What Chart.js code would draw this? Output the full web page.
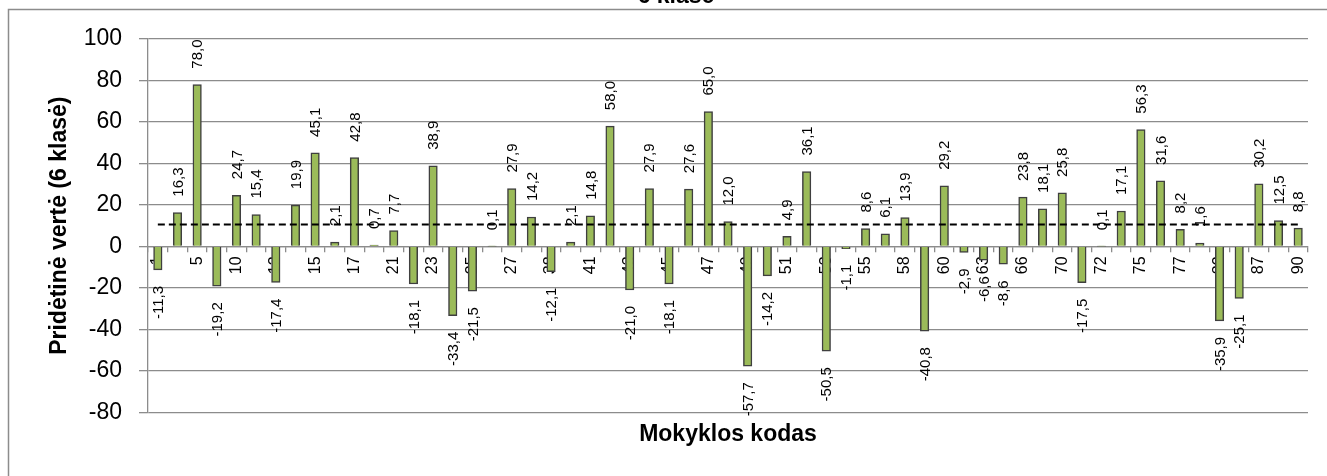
<!DOCTYPE html>
<html>
<head>
<meta charset="utf-8">
<script src="https://cdn.jsdelivr.net/npm/chart.js@4.4.1/dist/chart.umd.min.js"></script>
<style>
  html, body { margin: 0; padding: 0; background: #fff; }
  canvas { display: block; }
</style>
</head>
<body>
<canvas id="chart" width="1327" height="476"></canvas>
<script>
// school codes (every other one is shown on the axis, the rest are estimated)
const schoolCodes = [
    "1", "3", "5", "7", "10", "11", "12", "14", "15", "16",
    "17", "19", "21", "22", "23", "24", "25", "26", "27", "30",
    "38", "40", "41", "42", "43", "44", "45", "46", "47", "48",
    "49", "50", "51", "52", "53", "54", "55", "57", "58", "59",
    "60", "62", "63", "64", "66", "68", "70", "71", "72", "74",
    "75", "76", "77", "80", "82", "85", "87", "88", "90"
];

// added value, 6th grade
const addedValue = [
    -11.3, 16.3, 78.0, -19.2, 24.7, 15.4, -17.4, 19.9, 45.1, 2.1,
    42.8, 0.7, 7.7, -18.1, 38.9, -33.4, -21.5, 0.1, 27.9, 14.2,
    -12.1, 2.1, 14.8, 58.0, -21.0, 27.9, -18.1, 27.6, 65.0, 12.0,
    -57.7, -14.2, 4.9, 36.1, -50.5, -1.1, 8.6, 6.1, 13.9, -40.8,
    29.2, -2.9, -6.6, -8.6, 23.8, 18.1, 25.8, -17.5, 0.1, 17.1,
    56.3, 31.6, 8.2, 1.6, -35.9, -25.1, 30.2, 12.5, 8.8
];

// dashed reference level
const refLevel = 10.6;

const yTicks = [-80, -60, -40, -20, 0, 20, 40, 60, 80, 100];

const FONT = '"Liberation Sans", Arial, sans-serif';

function fmt(v) {
    return v.toFixed(1).replace('.', ',');
}

// white page, frame and the cut-off title on top
const frame = {
    id: 'frame',
    beforeDraw(chart) {
        const ctx = chart.ctx;
        ctx.save();
        ctx.fillStyle = '#fff';
        ctx.fillRect(0, 0, chart.width, chart.height);
        ctx.strokeStyle = '#8c8c8c';
        ctx.lineWidth = 1.5;
        ctx.strokeRect(8.5, 9.5, 1500, 600);
        ctx.fillStyle = '#000';
        ctx.font = 'bold 23px ' + FONT;
        ctx.textAlign = 'center';
        ctx.textBaseline = 'alphabetic';
        ctx.fillText('6 klasė', 676, 3);
        ctx.restore();
    }
};

// value labels, rotated, outside the bar end
const barLabels = {
    id: 'barLabels',
    afterDatasetsDraw(chart) {
        const ctx = chart.ctx;
        const meta = chart.getDatasetMeta(0);
        ctx.save();
        ctx.font = '15px ' + FONT;
        ctx.fillStyle = '#000';
        ctx.textBaseline = 'middle';
        meta.data.forEach((bar, i) => {
            const v = addedValue[i];
            ctx.save();
            if (v >= 0) {
                ctx.translate(bar.x + 1, bar.y - 16);
                ctx.rotate(-Math.PI / 2);
                ctx.textAlign = 'left';
            } else {
                ctx.translate(bar.x + 1, bar.y + 16);
                ctx.rotate(-Math.PI / 2);
                ctx.textAlign = 'right';
            }
            ctx.fillText(fmt(v), 0, 0);
            ctx.restore();
        });
        ctx.restore();
    }
};

const chart = new Chart(document.getElementById('chart'), {
    type: 'bar',
    data: {
        labels: schoolCodes,
        datasets: [
            {
                type: 'bar',
                data: addedValue,
                backgroundColor: '#9bbb59',
                borderColor: '#3f3f3f',
                borderWidth: 1.5,
                barThickness: 8.5,
                order: 1
            },
            {
                type: 'line',
                data: addedValue.map(() => refLevel),
                borderColor: '#000',
                borderWidth: 2,
                borderDash: [7, 4],
                pointRadius: 0,
                fill: false,
                order: 0
            }
        ]
    },
    options: {
        responsive: false,
        animation: false,
        devicePixelRatio: 1,
        layout: {
            padding: { top: 39, right: 19, bottom: 28, left: 0 }
        },
        plugins: {
            legend: { display: false },
            tooltip: { enabled: false },
            title: {
                display: true,
                position: 'bottom',
                fullSize: false,
                text: 'Mokyklos kodas',
                color: '#000',
                font: { family: FONT, size: 23, weight: 'bold' },
                padding: { top: 8, bottom: 0 }
            }
        },
        scales: {
            x: {
                position: { y: 0 },
                offset: true,
                grid: {
                    drawOnChartArea: false,
                    drawTicks: true,
                    tickLength: 5,
                    offset: true,
                    color: '#8c8c8c',
                    lineWidth: 1.3
                },
                border: { color: '#8c8c8c', width: 1.3 },
                ticks: {
                    autoSkip: false,
                    minRotation: 90,
                    maxRotation: 90,
                    padding: 5,
                    color: '#000',
                    font: { family: FONT, size: 16 },
                    callback: function (val, index) {
                        return index % 2 === 0 ? this.getLabelForValue(val) : '';
                    }
                }
            },
            y: {
                min: -80,
                max: 100,
                afterFit(scale) { scale.width = 148; },
                afterBuildTicks(scale) {
                    scale.ticks = yTicks.map(v => ({ value: v }));
                },
                grid: {
                    color: '#8c8c8c',
                    lineWidth: 1.3,
                    tickLength: 9
                },
                border: { color: '#8c8c8c', width: 1.3 },
                ticks: {
                    padding: 17,
                    color: '#000',
                    font: { family: FONT, size: 23 }
                },
                title: {
                    display: true,
                    text: 'Pridėtinė vertė (6 klasė)',
                    color: '#000',
                    font: { family: FONT, size: 23, weight: 'bold' },
                    padding: { top: 46, bottom: 0 }
                }
            }
        }
    },
    plugins: [frame, barLabels]
});
</script>
</body>
</html>
